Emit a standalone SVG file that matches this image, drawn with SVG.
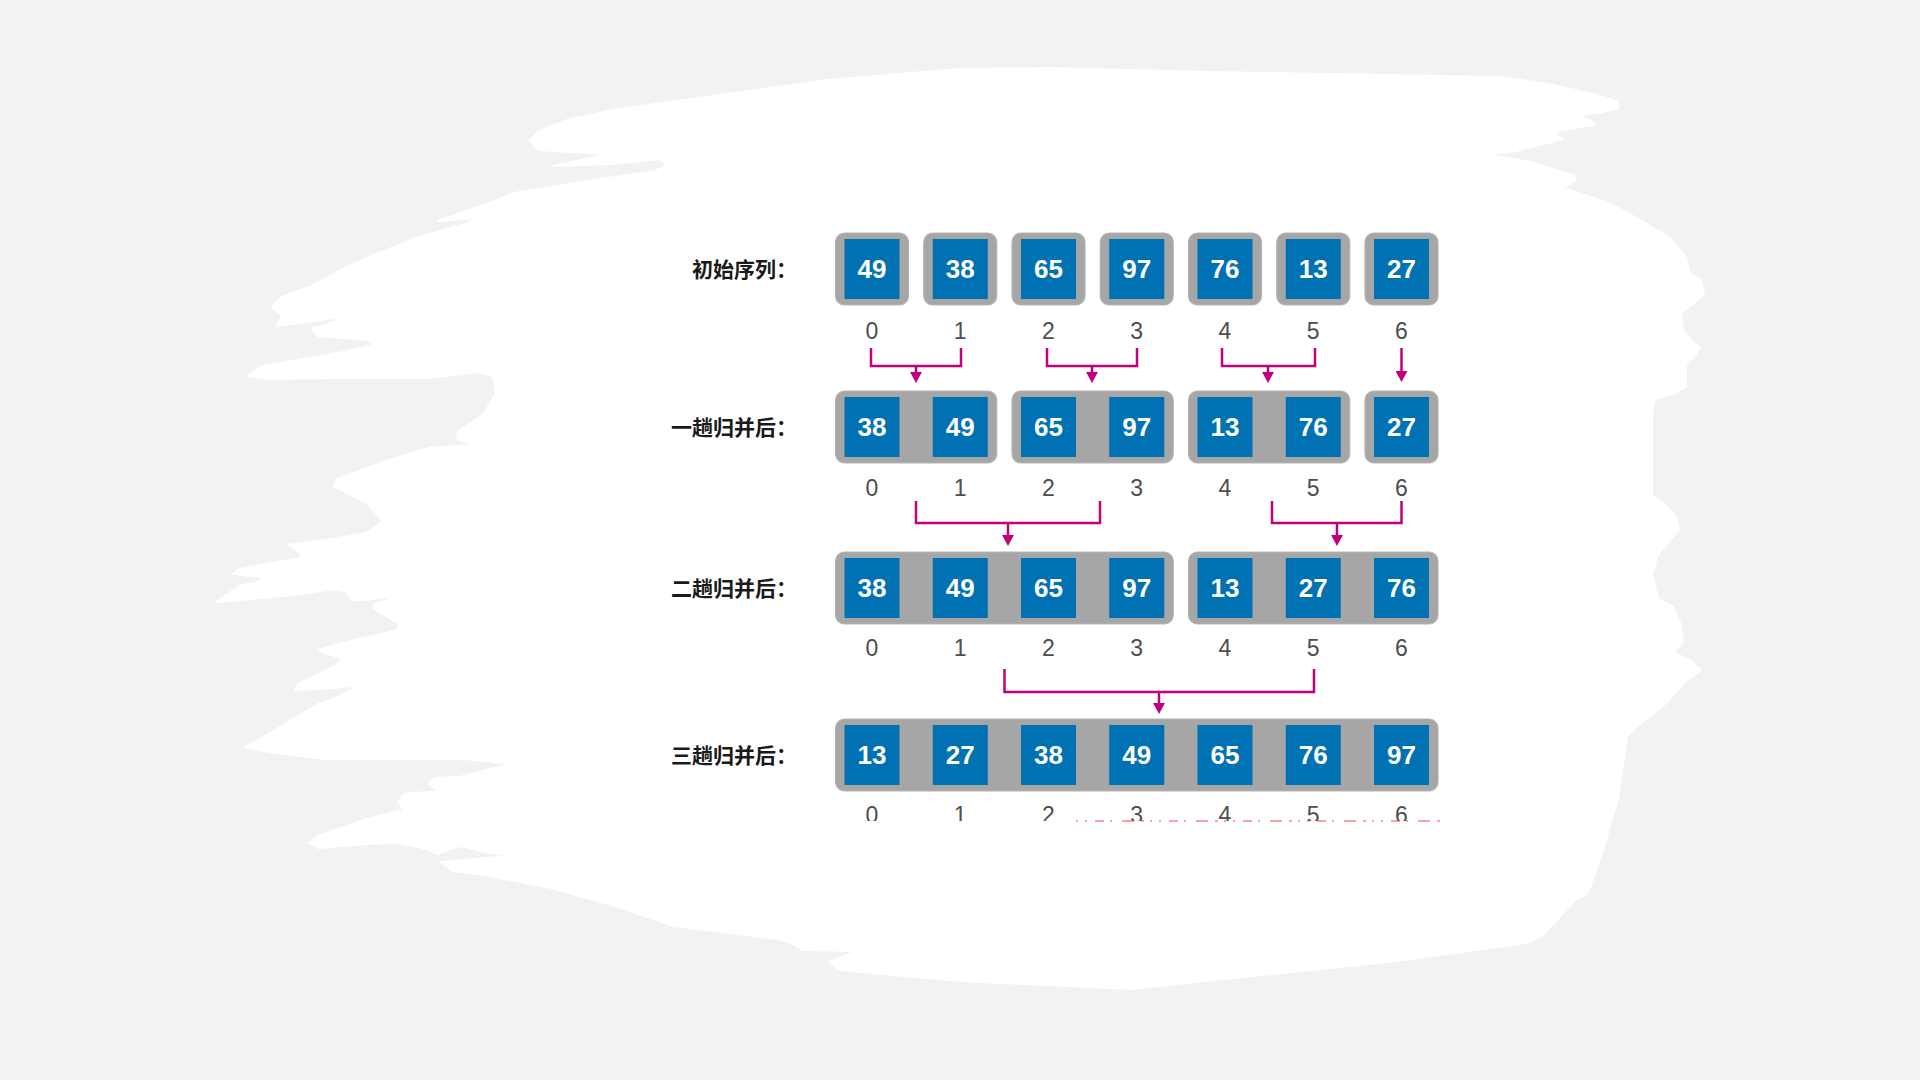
<svg xmlns="http://www.w3.org/2000/svg" width="1920" height="1080" viewBox="0 0 1920 1080">
<style>
.g{fill:#a6a6a6;stroke:#b4b4b4;stroke-width:1.2}
.b{fill:#0071b2}
.v{font-family:"Liberation Sans",Arial,sans-serif;font-weight:bold;font-size:26px;fill:#ffffff;text-anchor:middle}
.i{font-family:"Liberation Sans",Arial,sans-serif;font-size:23px;fill:#4d4d4d;text-anchor:middle}
.l{font-family:"Noto Sans CJK SC","Noto Sans",sans-serif;font-weight:bold;font-size:21px;fill:#1a1a1a}
.c{fill:none;stroke:#c1007c;stroke-width:2.5}
.s{fill:none;stroke:#c1007c;stroke-width:2.5;marker-end:url(#ah)}
</style>
<defs>
<marker id="ah" viewBox="0 0 11 12" refX="1" refY="6" markerWidth="11" markerHeight="12" markerUnits="userSpaceOnUse" orient="auto">
<path d="M0,0 L11,6 L0,12 z" fill="#c1007c"/>
</marker>
<clipPath id="clip4"><rect x="800" y="790" width="700" height="31"/></clipPath>
</defs>
<rect width="1920" height="1080" fill="#f2f2f2"/>
<path id="brush" fill="#ffffff" stroke="#ffffff" stroke-width="2" stroke-linejoin="round" d="M530,141 L539,131 570,119 588,116 612,110 735,93 827,80 960,69 1052,68 1205,72 1389,75 1499,77 1548,84 1597,95 1618,102 1618,108 1603,112 1578,115 1591,121 1594,125 1560,130 1554,135 1563,139 1548,143 1511,152 1484,154 1530,162 1575,176 1575,181 1563,188 1572,191 1609,203 1640,220 1670,238 1686,257 1689,272 1701,281 1704,294 1692,305 1681,313 1683,331 1692,341 1700,348 1695,355 1686,365 1686,387 1673,394 1655,399 1652,413 1652,496 1664,504 1676,517 1679,530 1670,540 1658,554 1652,574 1658,599 1673,607 1680,623 1683,642 1673,652 1692,662 1701,670 1686,681 1664,705 1634,729 1627,736 1618,798 1603,850 1588,893 1575,900 1542,936 1526,943 1389,962 1205,981 1131,989 960,981 839,970 830,962 857,951 802,950 796,945 778,939 674,926 612,905 551,888 490,876 453,871 441,862 511,856 484,852 462,846 450,849 438,854 423,848 398,843 367,844 318,848 309,843 318,836 367,819 404,810 398,802 404,794 438,791 429,784 435,778 459,777 511,764 465,759 325,759 269,752 245,747 257,741 318,704 337,698 361,685 334,688 294,690 300,683 334,667 343,659 318,650 343,643 398,630 398,623 374,609 374,604 389,600 386,597 364,600 352,600 346,591 334,589 294,595 217,602 239,586 260,581 263,577 233,574 239,569 300,558 301,553 288,545 325,540 367,533 383,521 367,503 334,486 337,479 392,459 429,448 472,445 456,438 459,431 484,414 496,393 493,376 478,372 429,378 337,378 269,379 248,376 263,366 343,352 374,345 367,340 318,336 312,329 334,322 349,316 277,326 282,316 272,307 282,297 312,286 343,269 374,255 416,238 465,224 481,218 438,221 478,207 502,198 514,193 588,181 655,171 667,166 661,159 612,164 554,166 609,154 570,152 539,150 Z"/>

<g id="labels">
<text class="l" x="692" y="277">初始序列：</text>
<text class="l" x="671" y="435">一趟归并后：</text>
<text class="l" x="671" y="596">二趟归并后：</text>
<text class="l" x="671" y="763">三趟归并后：</text>
</g>

<!-- Row 1: initial sequence -->
<g id="row1">
<g id="r1-n0"><rect class="g" x="835.5" y="233" width="73" height="72" rx="9"/><rect class="b" x="844.5" y="239" width="55" height="60"/><text class="v" x="872" y="278.3">49</text></g>
<g id="r1-n1"><rect class="g" x="923.75" y="233" width="73" height="72" rx="9"/><rect class="b" x="932.75" y="239" width="55" height="60"/><text class="v" x="960.25" y="278.3">38</text></g>
<g id="r1-n2"><rect class="g" x="1012" y="233" width="73" height="72" rx="9"/><rect class="b" x="1021" y="239" width="55" height="60"/><text class="v" x="1048.5" y="278.3">65</text></g>
<g id="r1-n3"><rect class="g" x="1100.25" y="233" width="73" height="72" rx="9"/><rect class="b" x="1109.25" y="239" width="55" height="60"/><text class="v" x="1136.75" y="278.3">97</text></g>
<g id="r1-n4"><rect class="g" x="1188.5" y="233" width="73" height="72" rx="9"/><rect class="b" x="1197.5" y="239" width="55" height="60"/><text class="v" x="1225" y="278.3">76</text></g>
<g id="r1-n5"><rect class="g" x="1276.75" y="233" width="73" height="72" rx="9"/><rect class="b" x="1285.75" y="239" width="55" height="60"/><text class="v" x="1313.25" y="278.3">13</text></g>
<g id="r1-n6"><rect class="g" x="1365" y="233" width="73" height="72" rx="9"/><rect class="b" x="1374" y="239" width="55" height="60"/><text class="v" x="1401.5" y="278.3">27</text></g>
<g id="r1-idx"><text class="i" x="872" y="338.5">0</text><text class="i" x="960.25" y="338.5">1</text><text class="i" x="1048.5" y="338.5">2</text><text class="i" x="1136.75" y="338.5">3</text><text class="i" x="1225" y="338.5">4</text><text class="i" x="1313.25" y="338.5">5</text><text class="i" x="1401.5" y="338.5">6</text></g>
</g>

<!-- Row 2 -->
<g id="row2">
<g id="r2-n01"><rect class="g" x="835.5" y="391" width="161.25" height="72" rx="9"/><rect class="b" x="844.5" y="397" width="55" height="60"/><text class="v" x="872" y="436.3">38</text><rect class="b" x="932.75" y="397" width="55" height="60"/><text class="v" x="960.25" y="436.3">49</text></g>
<g id="r2-n23"><rect class="g" x="1012" y="391" width="161.25" height="72" rx="9"/><rect class="b" x="1021" y="397" width="55" height="60"/><text class="v" x="1048.5" y="436.3">65</text><rect class="b" x="1109.25" y="397" width="55" height="60"/><text class="v" x="1136.75" y="436.3">97</text></g>
<g id="r2-n45"><rect class="g" x="1188.5" y="391" width="161.25" height="72" rx="9"/><rect class="b" x="1197.5" y="397" width="55" height="60"/><text class="v" x="1225" y="436.3">13</text><rect class="b" x="1285.75" y="397" width="55" height="60"/><text class="v" x="1313.25" y="436.3">76</text></g>
<g id="r2-n6"><rect class="g" x="1365" y="391" width="73" height="72" rx="9"/><rect class="b" x="1374" y="397" width="55" height="60"/><text class="v" x="1401.5" y="436.3">27</text></g>
<g id="r2-idx"><text class="i" x="872" y="495.5">0</text><text class="i" x="960.25" y="495.5">1</text><text class="i" x="1048.5" y="495.5">2</text><text class="i" x="1136.75" y="495.5">3</text><text class="i" x="1225" y="495.5">4</text><text class="i" x="1313.25" y="495.5">5</text><text class="i" x="1401.5" y="495.5">6</text></g>
</g>

<!-- Row 3 -->
<g id="row3">
<g id="r3-n0123"><rect class="g" x="835.5" y="552" width="337.75" height="72" rx="9"/>
<rect class="b" x="844.5" y="558" width="55" height="60"/><text class="v" x="872" y="597.3">38</text>
<rect class="b" x="932.75" y="558" width="55" height="60"/><text class="v" x="960.25" y="597.3">49</text>
<rect class="b" x="1021" y="558" width="55" height="60"/><text class="v" x="1048.5" y="597.3">65</text>
<rect class="b" x="1109.25" y="558" width="55" height="60"/><text class="v" x="1136.75" y="597.3">97</text></g>
<g id="r3-n456"><rect class="g" x="1188.5" y="552" width="249.5" height="72" rx="9"/>
<rect class="b" x="1197.5" y="558" width="55" height="60"/><text class="v" x="1225" y="597.3">13</text>
<rect class="b" x="1285.75" y="558" width="55" height="60"/><text class="v" x="1313.25" y="597.3">27</text>
<rect class="b" x="1374" y="558" width="55" height="60"/><text class="v" x="1401.5" y="597.3">76</text></g>
<g id="r3-idx"><text class="i" x="872" y="656">0</text><text class="i" x="960.25" y="656">1</text><text class="i" x="1048.5" y="656">2</text><text class="i" x="1136.75" y="656">3</text><text class="i" x="1225" y="656">4</text><text class="i" x="1313.25" y="656">5</text><text class="i" x="1401.5" y="656">6</text></g>
</g>

<!-- Row 4 -->
<g id="row4">
<g id="r4-all"><rect class="g" x="835.5" y="719" width="602.5" height="72" rx="9"/>
<rect class="b" x="844.5" y="725" width="55" height="60"/><text class="v" x="872" y="764.3">13</text>
<rect class="b" x="932.75" y="725" width="55" height="60"/><text class="v" x="960.25" y="764.3">27</text>
<rect class="b" x="1021" y="725" width="55" height="60"/><text class="v" x="1048.5" y="764.3">38</text>
<rect class="b" x="1109.25" y="725" width="55" height="60"/><text class="v" x="1136.75" y="764.3">49</text>
<rect class="b" x="1197.5" y="725" width="55" height="60"/><text class="v" x="1225" y="764.3">65</text>
<rect class="b" x="1285.75" y="725" width="55" height="60"/><text class="v" x="1313.25" y="764.3">76</text>
<rect class="b" x="1374" y="725" width="55" height="60"/><text class="v" x="1401.5" y="764.3">97</text></g>
<g id="r4-idx" clip-path="url(#clip4)"><text class="i" x="872" y="823">0</text><text class="i" x="960.25" y="823">1</text><text class="i" x="1048.5" y="823">2</text><text class="i" x="1136.75" y="823">3</text><text class="i" x="1225" y="823">4</text><text class="i" x="1313.25" y="823">5</text><text class="i" x="1401.5" y="823">6</text></g>
<line x1="1076" y1="821" x2="1444" y2="821" stroke="#f25a5a" stroke-opacity="0.75" stroke-width="1.3" stroke-dasharray="2 7 2 8 9 6 2 10 12 7 3 6"/>
</g>

<!-- Connectors -->
<g id="connectors">
<path class="c" d="M871,348 V366 H961 V348"/><path class="s" d="M916,366 V373"/>
<path class="c" d="M1047,348 V366 H1137 V348"/><path class="s" d="M1092,366 V373"/>
<path class="c" d="M1222,348 V366 H1315 V348"/><path class="s" d="M1268,366 V373"/>
<path class="s" d="M1401.5,348 V372"/>
<path class="c" d="M916,501 V523 H1100 V501"/><path class="s" d="M1008,523 V536"/>
<path class="c" d="M1272,501 V523 H1401.5 V501"/><path class="s" d="M1337,523 V536"/>
<path class="c" d="M1004.5,669 V692 H1314 V669"/><path class="s" d="M1159,692 V704"/>
</g>
</svg>
